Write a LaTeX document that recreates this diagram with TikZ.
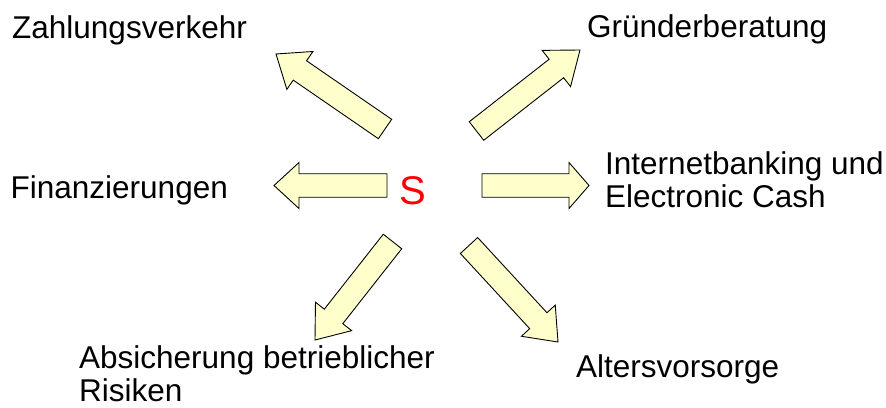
\documentclass[tikz,border=0pt]{standalone}
\usepackage{fontspec}
\setmainfont{Liberation Sans}
\usetikzlibrary{calc}

\definecolor{arrowfill}{HTML}{FFFFCC}
\definecolor{centerred}{HTML}{FF0000}

% Block arrow from #2 (tail) to #3 (tip) with head length #4
\newcommand\blockarrow[4]{%
  \coordinate (#1-tail) at #2;
  \coordinate (#1-tip) at #3;
  \coordinate (#1-base) at ($(#1-tip)!#4!(#1-tail)$);
  \draw[arrowbody]
    ($(#1-tail)!11.75pt!90:(#1-tip)$) --
    ($(#1-base)!11.75pt!90:(#1-tip)$) --
    ($(#1-base)!23pt!90:(#1-tip)$) --
    (#1-tip) --
    ($(#1-base)!23pt!-90:(#1-tip)$) --
    ($(#1-base)!11.75pt!-90:(#1-tip)$) --
    ($(#1-tail)!11.75pt!-90:(#1-tip)$) -- cycle;
}

\begin{document}
\begin{tikzpicture}[x=1pt, y=-1pt,
  arrowbody/.style={draw=black, line width=0.9pt, fill=arrowfill, line join=miter},
  topic/.style={anchor=base west, inner sep=0pt, align=left,
    font=\fontsize{31.5}{33}\selectfont},
  hub/.style={anchor=base, inner sep=0pt, text=centerred,
    font=\fontsize{40}{44}\selectfont}]
\useasboundingbox (0,0) rectangle (886,407);

% centre letter
\node[hub] (s) at (412.5,204.5) {S};

% topics around the centre (two-line nodes are placed by their last baseline)
\node[topic] (zv) at (12,38) {Zahlungsverkehr};
\node[topic] (gb) at (587,37) {Gründerberatung};
\node[topic] (fi) at (10.5,198) {Finanzierungen};
\node[topic] (ib) at (605,207) {Internetbanking und\\Electronic Cash};
\node[topic] (ab) at (79,401) {Absicherung betrieblicher\\Risiken};
\node[topic] (av) at (576,377) {Altersvorsorge};

% block arrows pointing outwards
\blockarrow{ul}{(385,129)}{(276,54)}{29pt}
\blockarrow{ur}{(476.5,131)}{(580,50)}{30pt}
\blockarrow{lt}{(387,185.5)}{(274,185.5)}{25pt}
\blockarrow{rt}{(482,185.5)}{(589,185.5)}{20pt}
\blockarrow{ll}{(392.5,241.5)}{(315,340)}{30pt}
\blockarrow{lr}{(469,245.5)}{(558,342)}{29pt}
\end{tikzpicture}
\end{document}
